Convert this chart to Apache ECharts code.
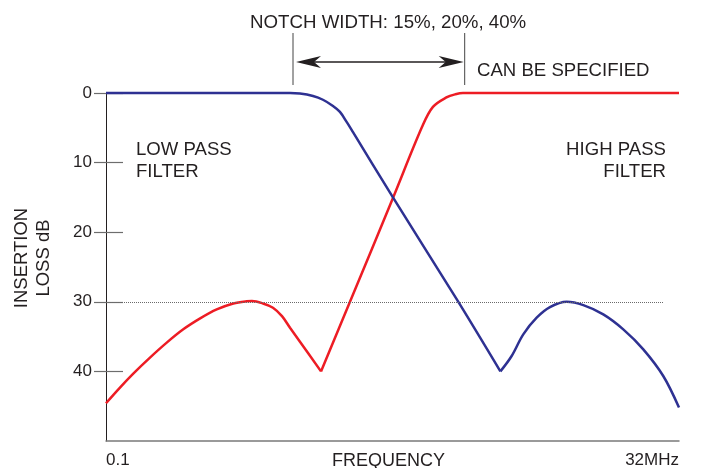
<!DOCTYPE html>
<html><head><meta charset="utf-8">
<script src="https://cdn.jsdelivr.net/npm/echarts@6.0.0/dist/echarts.min.js"></script>
<style>html,body{margin:0;padding:0;background:#fff}#c{width:701px;height:468px}</style>
</head><body><div id="c"></div>
<script>
// ---- data (frequency in MHz, insertion loss in dB) ----
const freqRange = [0.1, 32];
const lossRange = [0, 50];
const yTicks = [0, 10, 20, 30, 40];
const xTickLabels = ['0.1', '32MHz'];

// high pass filter (red): low-frequency lobe, then notch and rise
const highPassLobe = [[0.1,44.57],[0.1151,42.32],[0.1316,40.32],[0.1557,38.02],[0.1843,35.87],[0.2177,33.96],[0.258,32.39],[0.3048,31.1],[0.3602,30.24],[0.4122,29.93],[0.4348,29.9],[0.4857,30.24],[0.537,30.85],[0.588,32.06],[0.6375,33.72],[0.7047,35.73],[0.871,40.0]];
const highPassRise = [[0.871,40.0],[1.166,30.0],[1.797,15.1],[2.407,4.9],[2.688,2.0],[3.096,0.6],[3.356,0.2],[3.637,0],[4.5,0],[32,0]];
// low pass filter (blue): flat, roll-off, notch and high-frequency lobe
const lowPassFall = [[0.1,0],[0.5,0],[0.6375,0],[0.7047,0.07],[0.8035,0.43],[0.888,0.97],[0.9825,1.86],[1.054,2.72],[1.131,4.23],[1.202,5.63],[1.797,15.0],[3.423,29.7],[5.3,40.0]];
const lowPassLobe = [[5.3,40.0],[5.936,37.79],[6.673,34.68],[7.636,32.29],[8.73,30.77],[10.33,30.0],[12.21,30.48],[14.93,31.81],[18.26,33.96],[22.34,36.83],[27.31,40.66],[32,45.19]];

const refLevel = 30;          // dotted reference line (dB)
const refEnd = 27.3;          // reference line ends (MHz)
const notchEdges = [0.657, 3.70];

const TXT = '#231f20';
const FONT = 'Liberation Sans, Arial, Helvetica, sans-serif';
const RED = '#ed1c24', BLUE = '#2e3192';

const chart = echarts.init(document.getElementById('c'), null, {renderer: 'canvas'});

function lineSeries(data, color, extra) {
  return Object.assign({
    type: 'line', data: data, smooth: 0.35, showSymbol: false, symbol: 'none',
    clip: false, xAxisIndex: 0, yAxisIndex: 0,
    lineStyle: {color: color, width: 2.5}, itemStyle: {color: color},
    emphasis: {disabled: true}, silent: true, z: 3
  }, extra || {});
}

chart.setOption({
  animation: false,
  backgroundColor: '#fff',
  textStyle: {fontFamily: FONT, color: TXT},
  grid: {left: 106, right: 22, top: 93, bottom: 27, containLabel: false, outerBoundsMode: 'none'},
  xAxis: {
    type: 'log', logBase: 10, min: freqRange[0], max: freqRange[1],
    name: 'FREQUENCY', nameLocation: 'middle', nameGap: 11, nameMoveOverlap: false,
    nameTextStyle: {fontSize: 18, color: TXT, fontFamily: FONT, verticalAlign: 'top', padding: [0, 8, 0, 0]},
    axisLine: {show: true, onZero: false, lineStyle: {color: '#7a7a7a', width: 1.5}},
    axisTick: {show: false},
    splitLine: {show: false}, minorTick: {show: false}, minorSplitLine: {show: false},
    axisLabel: {
      show: true, fontSize: 17, color: TXT, fontFamily: FONT, margin: 11,
      showMinLabel: true, showMaxLabel: true, hideOverlap: false,
      alignMinLabel: 'left', alignMaxLabel: 'right',
      formatter: function (v) {
        if (Math.abs(v - freqRange[0]) < 1e-6) return xTickLabels[0];
        if (Math.abs(v - freqRange[1]) < 1e-3) return xTickLabels[1];
        return '';
      }
    }
  },
  yAxis: [{
    type: 'value', inverse: true, min: lossRange[0], max: lossRange[1], interval: 10,
    name: 'INSERTION\nLOSS dB', nameLocation: 'middle', nameGap: 51, nameRotate: 90, nameMoveOverlap: false,
    nameTextStyle: {fontSize: 18.5, color: TXT, fontFamily: FONT, lineHeight: 22, align: 'center', padding: [0, 0, 0, 18]},
    axisLine: {show: true, onZero: false, lineStyle: {color: '#231f20', width: 1}},
    axisTick: {show: true, inside: false, length: 12, customValues: yTicks, lineStyle: {color: '#6d6d6d', width: 1.2}},
    axisLabel: {show: true, customValues: yTicks, fontSize: 17, color: TXT, fontFamily: FONT, margin: 14,
      formatter: function (v) { return yTicks.indexOf(v) >= 0 ? String(v) : ''; }},
    splitLine: {show: false}
  }, {
    type: 'value', inverse: true, min: lossRange[0], max: lossRange[1], interval: 10, position: 'left', offset: 0,
    axisLine: {show: false},
    axisTick: {show: true, inside: true, length: 17, customValues: yTicks, lineStyle: {color: '#6d6d6d', width: 1.2}},
    axisLabel: {show: false},
    splitLine: {show: false}
  }],
  series: [
    lineSeries(highPassLobe, RED, {
      markLine: {
        silent: true, symbol: ['none', 'none'], label: {show: false},
        lineStyle: {color: '#6a6a6a', width: 1, type: [1, 1]},
        data: [[{coord: [freqRange[0], refLevel]}, {coord: [refEnd, refLevel]}]]
      }
    }),
    lineSeries(highPassRise, RED),
    lineSeries(lowPassFall, BLUE),
    lineSeries(lowPassLobe, BLUE)
  ]
});

// annotations anchored on the axes
const x1 = chart.convertToPixel({xAxisIndex: 0}, notchEdges[0]);
const x2 = chart.convertToPixel({xAxisIndex: 0}, notchEdges[1]);
const y0 = chart.convertToPixel({yAxisIndex: 0}, 0);
const ya = y0 - 31;
const lt = x1 + 3, rt = x2 - 1;
const dark = '#231f20';
const textStyle = (t, x, y, align, extra) => ({
  type: 'text', x: x, y: y, silent: true,
  style: Object.assign({text: t, fill: TXT, font: '18.6px ' + FONT, textAlign: align, textVerticalAlign: 'middle'}, extra || {})
});
chart.setOption({
  graphic: [
    {type: 'line', silent: true, shape: {x1: x1, y1: y0 - 60, x2: x1, y2: y0 - 8}, style: {stroke: '#444', lineWidth: 1}},
    {type: 'line', silent: true, shape: {x1: x2, y1: y0 - 60, x2: x2, y2: y0 - 8}, style: {stroke: '#444', lineWidth: 1}},
    {type: 'line', silent: true, shape: {x1: lt + 10, y1: ya, x2: rt - 10, y2: ya}, style: {stroke: dark, lineWidth: 1.3}},
    {type: 'polygon', silent: true, shape: {points: [[lt, ya], [lt + 25, ya - 6], [lt + 18, ya], [lt + 25, ya + 6]]}, style: {fill: dark}},
    {type: 'polygon', silent: true, shape: {points: [[rt, ya], [rt - 25, ya - 6], [rt - 18, ya], [rt - 25, ya + 6]]}, style: {fill: dark}},
    textStyle('NOTCH WIDTH: 15%, 20%, 40%', 250, 23, 'left', {font: '18.7px ' + FONT}),
    textStyle('CAN BE SPECIFIED', 477, 71, 'left'),
    textStyle('LOW PASS\nFILTER', 136, 161, 'left', {lineHeight: 22}),
    textStyle('HIGH PASS\nFILTER', 666, 161, 'right', {lineHeight: 22})
  ]
});
</script>
</body></html>
